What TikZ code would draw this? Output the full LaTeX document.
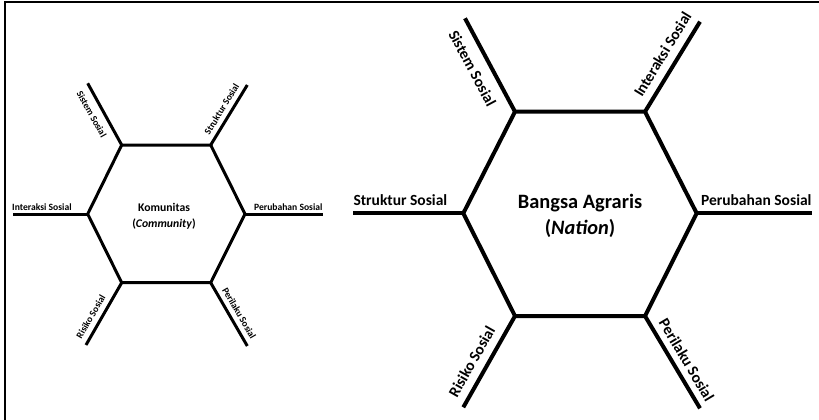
\documentclass[tikz,border=0pt]{standalone}
\usepackage{fontspec}
\setmainfont{Carlito}
\begin{document}
\begin{tikzpicture}[x=1pt,y=-1pt,
  frame/.style={line width=2pt},
  hexS/.style={line width=3pt, line join=miter},
  hexL/.style={line width=4pt, line join=miter},
  lblS/.style={font=\bfseries\fontsize{9.6}{11}\selectfont, inner sep=0pt},
  lblL/.style={font=\bfseries\fontsize{15.5}{18}\selectfont, inner sep=0pt},
  ctrS/.style={font=\bfseries\fontsize{11.7}{16}\selectfont, align=center, inner sep=0pt},
  ctrL/.style={font=\bfseries\fontsize{20.4}{26.7}\selectfont, align=center, inner sep=0pt}]
\useasboundingbox (0,0) rectangle (819,420);
\draw[frame] (4.7,420) -- (4.7,1.7) -- (819,1.7);
% ---- left hexagon (Komunitas)
\coordinate (aTL) at (121.7,145);
\coordinate (aTR) at (210.7,145);
\coordinate (aL) at (87.7,214);
\coordinate (aR) at (245,214);
\coordinate (aBL) at (121.7,282.7);
\coordinate (aBR) at (210.7,282.7);
\coordinate (aeSis) at (87.7,83.3);
\coordinate (aeStr) at (247.3,85);
\coordinate (aeInt) at (12.7,214);
\coordinate (aePer) at (322.7,214);
\coordinate (aeRis) at (86,345);
\coordinate (aePrl) at (247.3,346);
\draw[hexS] (aTL) -- (aTR) -- (aR) -- (aBR) -- (aBL) -- (aL) -- cycle;
\draw[hexS] (aTL) -- (aeSis);
\draw[hexS] (aTR) -- (aeStr);
\draw[hexS] (aL) -- (aeInt);
\draw[hexS] (aR) -- (aePer);
\draw[hexS] (aBL) -- (aeRis);
\draw[hexS] (aBR) -- (aePrl);
\node[ctrS] (kom) at (164,216) {Komunitas\\(\textit{Community})};
\node[lblS, rotate=-61] (aSis) at (91.7,114) {Sistem Sosial};
\node[lblS, rotate=58.6] (aStr) at (221.7,109.2) {Struktur Sosial};
\node[lblS, anchor=base west] (aInt) at (12,210.3) {Interaksi Sosial};
\node[lblS, anchor=base east] (aPer) at (322.7,210.3) {Perubahan Sosial};
\node[lblS, rotate=59.8] (aRis) at (90.8,316.7) {Risiko Sosial};
\node[lblS, rotate=-60] (aPrl) at (239.2,313.3) {Perilaku Sosial};
% ---- right hexagon (Bangsa Agraris)
\coordinate (bTL) at (515,111.7);
\coordinate (bTR) at (645,111.7);
\coordinate (bL) at (463.3,213.3);
\coordinate (bR) at (696.7,213.3);
\coordinate (bBL) at (515,316);
\coordinate (bBR) at (645,316);
\coordinate (beSis) at (465,18.3);
\coordinate (beInt) at (700,21.7);
\coordinate (beStr) at (353.3,213.3);
\coordinate (bePer) at (811.7,213.3);
\coordinate (beRis) at (463.3,407.3);
\coordinate (bePrl) at (700,408.3);
\draw[hexL] (bTL) -- (bTR) -- (bR) -- (bBR) -- (bBL) -- (bL) -- cycle;
\draw[hexL] (bTL) -- (beSis);
\draw[hexL] (bTR) -- (beInt);
\draw[hexL] (bL) -- (beStr);
\draw[hexL] (bR) -- (bePer);
\draw[hexL] (bBL) -- (beRis);
\draw[hexL] (bBR) -- (bePrl);
\node[ctrL] (bang) at (580,216) {Bangsa Agraris\\(\textit{Nation})};
\node[lblL, rotate=-61.8] (bSis) at (472.5,68.3) {Sistem Sosial};
\node[lblL, rotate=58.6] (bInt) at (662.5,54.2) {Interaksi Sosial};
\node[lblL, anchor=base west] (bStr) at (353.3,205) {Struktur Sosial};
\node[lblL, anchor=base east] (bPer) at (811.7,205) {Perubahan Sosial};
\node[lblL, rotate=60.5] (bRis) at (471.7,361.7) {Risiko Sosial};
\node[lblL, rotate=-59.2] (bPrl) at (686.7,360) {Perilaku Sosial};
\end{tikzpicture}
\end{document}
